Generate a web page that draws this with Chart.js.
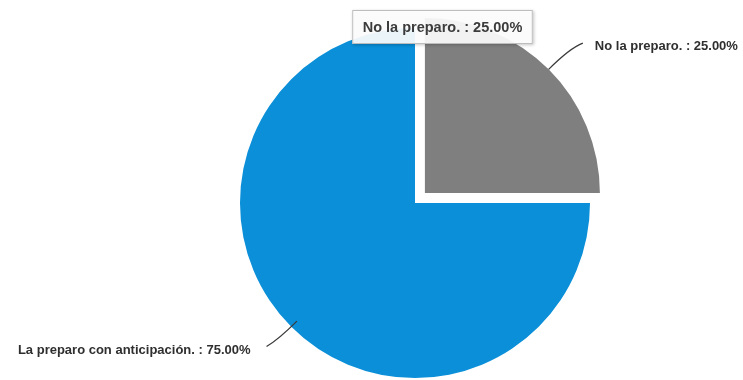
<!DOCTYPE html>
<html>
<head>
<meta charset="utf-8">
<script src="https://cdn.jsdelivr.net/npm/chart.js@4/dist/chart.umd.min.js"></script>
<style>
  html, body { margin: 0; padding: 0; background: #ffffff; }
  #wrap { position: relative; width: 743px; height: 380px; }
</style>
</head>
<body>
<div id="wrap"><canvas id="c" width="743" height="380"></canvas></div>
<script>
// Survey answers and their shares (percent)
const categories = ['No la preparo.', 'La preparo con anticipación.'];
const shares = [25, 75];
const sliceColors = ['#7f7f7f', '#0a8fd8'];
// Chart.js v4 moves an arc by offset / 4, so 56 pulls the grey slice out 14px
const sliceOffsets = [56, 0];

const fmt = (i) => categories[i] + ' : ' + shares[i].toFixed(2) + '%';

// Outside labels with curved leader lines, plus the highlighted tooltip box
const calloutPlugin = {
  id: 'callouts',
  afterDatasetsDraw(chart) {
    const ctx = chart.ctx;
    const arcs = chart.getDatasetMeta(0).data;
    const specs = [
      { inner: 0, elbow: 30, tail: 13, rise: -5, gap: 12, dy: 3 },
      { inner: -8, elbow: 18, tail: -12, rise: 7, gap: -16, dy: 3.5 }
    ];
    ctx.save();
    ctx.font = 'bold 13px "Liberation Sans", Arial, sans-serif';
    ctx.textBaseline = 'middle';
    arcs.forEach((arc, i) => {
      const p = arc.getProps(['x', 'y', 'startAngle', 'endAngle', 'outerRadius'], true);
      const mid = (p.startAngle + p.endAngle) / 2;
      const off = sliceOffsets[i] / 4;
      const cx = p.x + Math.cos(mid) * off;
      const cy = p.y + Math.sin(mid) * off;
      const s = specs[i];
      const r0 = p.outerRadius + s.inner;
      const r1 = p.outerRadius + s.elbow;
      const x0 = cx + Math.cos(mid) * r0, y0 = cy + Math.sin(mid) * r0;
      const x1 = cx + Math.cos(mid) * r1, y1 = cy + Math.sin(mid) * r1;
      const x2 = x1 + s.tail, y2 = y1 + s.rise;
      ctx.strokeStyle = '#3a3a3a';
      ctx.lineWidth = 1.3;
      ctx.beginPath();
      ctx.moveTo(x0, y0);
      ctx.quadraticCurveTo(x1, y1, x2, y2);
      ctx.stroke();
      ctx.fillStyle = '#2f2f2f';
      ctx.textAlign = s.tail > 0 ? 'left' : 'right';
      ctx.fillText(fmt(i), x2 + s.gap, y2 + s.dy);
    });

    // tooltip for the highlighted slice
    const tip = fmt(0);
    ctx.font = 'bold 14.5px "Liberation Sans", Arial, sans-serif';
    const tw = ctx.measureText(tip).width;
    const bw = tw + 21, bh = 34;
    const bx = 442.5 - bw / 2, by = 10;
    ctx.shadowColor = 'rgba(0,0,0,0.25)';
    ctx.shadowBlur = 3;
    ctx.shadowOffsetX = 1;
    ctx.shadowOffsetY = 1;
    ctx.fillStyle = 'rgba(255,255,255,0.92)';
    ctx.fillRect(bx, by, bw, bh);
    ctx.shadowColor = 'transparent';
    ctx.strokeStyle = '#bdbdbd';
    ctx.lineWidth = 1;
    ctx.strokeRect(bx + 0.5, by + 0.5, bw - 1, bh - 1);
    ctx.fillStyle = '#3c3c3c';
    ctx.textAlign = 'center';
    ctx.fillText(tip, 442.5, by + bh / 2 + 1);
    ctx.restore();
  }
};

new Chart(document.getElementById('c'), {
  type: 'pie',
  data: {
    labels: categories,
    datasets: [{
      data: shares,
      backgroundColor: sliceColors,
      hoverBackgroundColor: sliceColors,
      offset: sliceOffsets,
      hoverOffset: 0,
      borderWidth: 0,
      clip: false
    }]
  },
  options: {
    responsive: false,
    animation: false,
    radius: 175,
    layout: { padding: { left: 87, right: 0, top: 26, bottom: 0 } },
    events: [],
    plugins: {
      legend: { display: false },
      tooltip: { enabled: false }
    }
  },
  plugins: [calloutPlugin]
});
</script>
</body>
</html>
